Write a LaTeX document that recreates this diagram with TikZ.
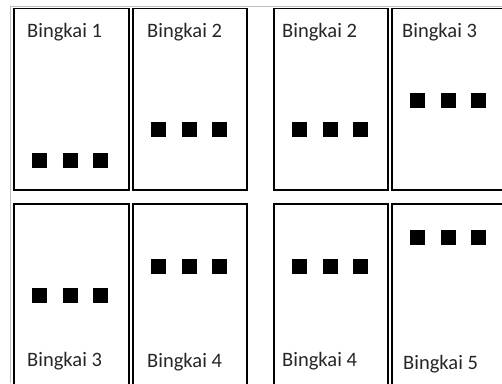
\documentclass[tikz,border=0pt]{standalone}
\usepackage{fontspec}
\setmainfont{Carlito}
\begin{document}
\begin{tikzpicture}[x=1pt,y=-1pt,
  frame/.style={draw=black,line width=1.8pt},
  sq/.style={fill=black},
  lbl/.style={anchor=base west,inner sep=0pt,font=\fontsize{20.5}{24}\selectfont,text=black!85},
  guide/.style={draw=black!25,line width=1pt}]
\useasboundingbox (0,0) rectangle (502,383);
\fill[white] (0,0) rectangle (502,383);
% guide lines
\draw[guide] (10,383) -- (10,6) -- (502,6);
% frames top row
\draw[frame] (14,8.5) rectangle (129,190);
\draw[frame] (133,8.5) rectangle (247,190);
\draw[frame] (274,8.5) rectangle (388,190);
\draw[frame] (392,8.5) rectangle (508,190);
% frames bottom row
\draw[frame] (14,204) rectangle (129,395);
\draw[frame] (133,204) rectangle (247,395);
\draw[frame] (274,204) rectangle (388,395);
\draw[frame] (392,204) rectangle (508,395);
% labels
\node[lbl] (t1) at (27,37) {Bingkai 1};
\node[lbl] (t2) at (147,37) {Bingkai 2};
\node[lbl] (t3) at (282,37) {Bingkai 2};
\node[lbl] (t4) at (402,37) {Bingkai 3};
\node[lbl] (b1) at (27,366) {Bingkai 3};
\node[lbl] (b2) at (147,367) {Bingkai 4};
\node[lbl] (b3) at (282,366) {Bingkai 4};
\node[lbl] (b4) at (403,369) {Bingkai 5};
% squares
\foreach \x/\y in {32/152.5, 151/122, 292/122, 410/93, 32/288, 151/259, 292/259, 410/230}{
  \foreach \d in {0,31,61}{
    \fill[sq] (\x+\d,\y) rectangle ++(15,15);
  }
}
\end{tikzpicture}
\end{document}
